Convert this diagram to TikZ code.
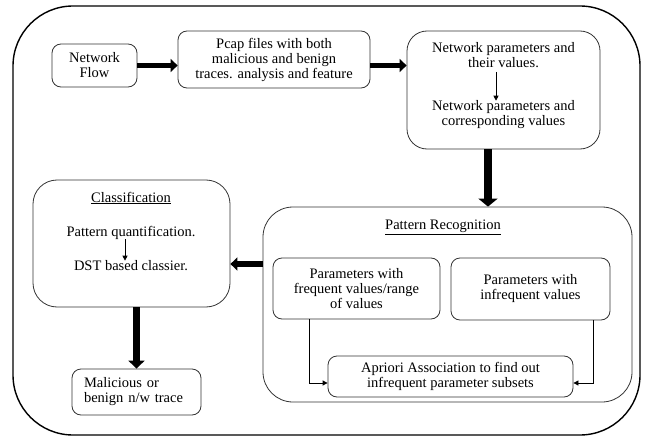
\documentclass[tikz,border=0pt]{standalone}
\usepackage{fontspec}
\setmainfont{Liberation Serif}
\usetikzlibrary{arrows.meta,positioning,calc}

\begin{document}
\begin{tikzpicture}[x=1pt, y=-1pt,
  every node/.style={font=\fontsize{14.5}{15}\selectfont, align=center, inner sep=0pt},
  box/.style={draw=black!80, line width=0.8pt, rounded corners=9pt},
  bigarrow/.style={line width=5.5pt, -{Triangle[length=7pt,width=13pt]}},
  vbigarrow/.style={line width=8pt, -{Triangle[length=8pt,width=19pt]}},
  thinarrow/.style={line width=0.8pt, -{Triangle[length=5pt,width=5pt]}}]
\useasboundingbox (0,0) rectangle (645,441);
%\draw[help lines] (0,0) grid[step=50] (645,441);
\draw[line width=1.4pt, rounded corners=60pt] (13,6) rectangle (640,435);

% top row
\node[box, minimum width=85pt, minimum height=43pt] (nf) at (94.5,65.5) {Network\\Flow};
\node[box, minimum width=192pt, minimum height=57pt] (pcap) at (274,59.5) {Pcap files with both\\malicious and benign\\traces. analysis and feature};
\node[box, rounded corners=20pt, minimum width=193pt, minimum height=118pt] (netpar) at (503.5,90) {};
\node (np1) at (503.5,55) {Network parameters and\\their values.};
\node (np2) at (503.5,115) {Network parameters and\\corresponding values};
\coordinate (np1out) at (496,72);
\draw[thinarrow] (np1out) -- (np1out |- np2.north);

% classification
\node[box, rounded corners=24pt, minimum width=197pt, minimum height=127pt] (cls) at (131.5,243.5) {};
\node (clst) at (131,198) {\underline{Classification}};
\node (pq) at (131,233) {Pattern quantification.};
\node (dst) at (131,266) {DST based classier.};
\coordinate (pqout) at (125,239);
\draw[thinarrow] (pqout) -- (pqout |- dst.north);
\node[box, text width=105pt, align=left, inner xsep=12pt, minimum height=46pt] (mal) at (136.5,392) {Malicious or\\benign n/w trace};

% pattern recognition
\node[box, rounded corners=30pt, minimum width=369pt, minimum height=195pt] (pr) at (447.5,304.5) {};
\node (prt) at (443,227) {\underline{Pattern Recognition}};
\node[box, minimum width=167pt, minimum height=61pt] (freq) at (356.5,288.5) {Parameters with\\frequent values/range\\of values};
\node[box, minimum width=159pt, minimum height=62pt] (infreq) at (530.5,289) {Parameters with\\infrequent values};
\node[box, minimum width=245pt, minimum height=41pt] (apr) at (450.5,376.5) {Apriori Association to find out\\infrequent parameter subsets};

\coordinate (fq) at ([xshift=-47.5pt]freq.south);
\coordinate (aprl) at ([yshift=-6.5pt]apr.west);
\coordinate (ifq) at ([xshift=62.5pt]infreq.south);
\coordinate (aprr) at ([yshift=-6.5pt]apr.east);
\draw[thinarrow] (fq) |- (aprl);
\draw[thinarrow] (ifq) |- (aprr);

% thick connectors
\coordinate (npout) at ([xshift=-15.5pt]netpar.south);
\coordinate (clsin) at ([yshift=-20.5pt]cls.east);
\draw[bigarrow] (nf.east) -- (nf.east -| pcap.west);
\draw[bigarrow] (pcap.east |- nf.east) -- (netpar.west |- nf.east);
\draw[vbigarrow] (npout) -- (npout |- pr.north);
\draw[bigarrow] (pr.west |- clsin) -- (clsin);
\draw[line width=7pt, -{Triangle[length=8pt,width=16pt]}] (cls.south -| mal.north) -- (mal.north);
\end{tikzpicture}
\end{document}
